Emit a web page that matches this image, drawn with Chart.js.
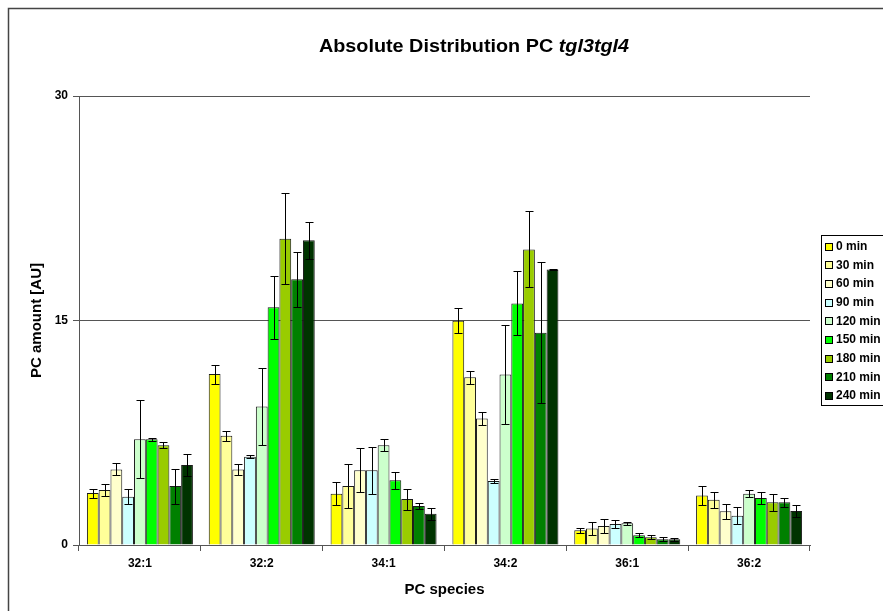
<!DOCTYPE html>
<html>
<head>
<meta charset="utf-8">
<title>Absolute Distribution PC tgl3tgl4</title>
<script src="https://cdn.jsdelivr.net/npm/chart.js@4"></script>
<style>
  html, body { margin: 0; padding: 0; background: #fff; }
  #wrap { width: 883px; height: 611px; }
</style>
</head>
<body>
<div id="wrap"><canvas id="c" width="883" height="611"></canvas></div>
<script>
// PC species on the x axis
const species = ['32:1', '32:2', '34:1', '34:2', '36:1', '36:2'];

// time points (one series each)
const timeLabels = ['0 min', '30 min', '60 min', '90 min', '120 min', '150 min', '180 min', '210 min', '240 min'];
const seriesColors = ['#FFFF00', '#FFFF99', '#FFFFCC', '#CCFFFF', '#CCFFCC', '#00FF00', '#99CC00', '#008000', '#003300'];

// mean PC amount [AU] per time point, ordered like `species`
const min0   = [3.47, 11.42, 3.43, 14.99, 0.98, 3.30];
const min30  = [3.67, 7.30, 3.94, 11.20, 1.11, 3.03];
const min60  = [5.05, 5.05, 4.99, 8.46, 1.27, 2.25];
const min90  = [3.23, 5.90, 4.99, 4.28, 1.40, 1.96];
const min120 = [7.06, 9.26, 6.66, 11.40, 1.45, 3.43];
const min150 = [7.06, 15.88, 4.32, 16.14, 0.65, 3.14];
const min180 = [6.66, 20.46, 3.07, 19.75, 0.51, 2.85];
const min210 = [3.94, 17.75, 2.60, 14.18, 0.38, 2.85];
const min240 = [5.34, 20.37, 2.09, 18.41, 0.38, 2.27];

// standard deviations (error bars)
const err0   = [0.30, 0.63, 0.76, 0.82, 0.15, 0.65];
const err30  = [0.40, 0.35, 1.47, 0.43, 0.42, 0.53];
const err60  = [0.40, 0.35, 1.47, 0.42, 0.45, 0.51];
const err90  = [0.50, 0.10, 1.55, 0.16, 0.29, 0.56];
const err120 = [2.60, 2.56, 0.41, 3.30, 0.11, 0.24];
const err150 = [0.10, 2.10, 0.58, 2.14, 0.13, 0.39];
const err180 = [0.20, 3.05, 0.70, 2.54, 0.13, 0.56];
const err210 = [1.17, 1.83, 0.20, 4.70, 0.13, 0.29];
const err240 = [0.72, 1.24, 0.41, 0.05, 0.11, 0.37];

// y axis ticks
const yTicks = [0, 15, 30];

const means = [min0, min30, min60, min90, min120, min150, min180, min210, min240];
const errs  = [err0, err30, err60, err90, err120, err150, err180, err210, err240];

const FONT = '"Liberation Sans", Arial, Helvetica, sans-serif';

const datasets = timeLabels.map((lab, i) => ({
  label: lab,
  data: means[i],
  errors: errs[i],
  backgroundColor: seriesColors[i],
  borderColor: '#1a1a1a',
  borderWidth: 1,
  borderSkipped: 'bottom',
  categoryPercentage: 0.87,
  barPercentage: 1.0
}));

// outer frame, title, error bars and legend box
const decorations = {
  id: 'decorations',
  beforeDraw(chart) {
    const ctx = chart.ctx;
    ctx.save();
    ctx.fillStyle = '#fff';
    ctx.fillRect(0, 0, chart.width, chart.height);
    ctx.strokeStyle = '#444';
    ctx.lineWidth = 1.5;
    ctx.strokeRect(8.5, 8.5, 1000, 1000);
    ctx.restore();
  },
  afterDatasetsDraw(chart) {
    const ctx = chart.ctx;
    const y = chart.scales.y;
    ctx.save();
    ctx.strokeStyle = '#000';
    ctx.lineWidth = 1;
    chart.data.datasets.forEach((ds, di) => {
      const meta = chart.getDatasetMeta(di);
      meta.data.forEach((bar, i) => {
        const v = ds.data[i], e = ds.errors[i];
        const x = Math.round(bar.x) + 0.5;
        const yt = Math.round(y.getPixelForValue(v + e)) + 0.5;
        const yb = Math.round(y.getPixelForValue(Math.max(0, v - e))) + 0.5;
        ctx.beginPath();
        ctx.moveTo(x, yt); ctx.lineTo(x, yb);
        ctx.moveTo(x - 4, yt); ctx.lineTo(x + 4, yt);
        ctx.moveTo(x - 4, yb); ctx.lineTo(x + 4, yb);
        ctx.stroke();
      });
    });
    ctx.restore();
  },
  afterDraw(chart) {
    const ctx = chart.ctx;
    ctx.save();
    // title: plain part plus italic strain name, slightly widened
    const part1 = 'Absolute Distribution PC ';
    const part2 = 'tgl3tgl4';
    const f1 = 'bold 18px ' + FONT;
    const f2 = 'italic bold 18px ' + FONT;
    const sx = 1.1;
    ctx.font = f1; const w1 = ctx.measureText(part1).width;
    ctx.font = f2; const w2 = ctx.measureText(part2).width;
    const cx = 474, ty = 47;
    ctx.translate(cx, ty);
    ctx.scale(sx, 1);
    const x0 = -(w1 + w2) / 2;
    ctx.fillStyle = '#000';
    ctx.textBaseline = 'middle';
    ctx.textAlign = 'left';
    ctx.font = f1; ctx.fillText(part1, x0, 0);
    ctx.font = f2; ctx.fillText(part2, x0 + w1, 0);
    ctx.setTransform(1, 0, 0, 1, 0, 0);

    // legend box
    const lx = 821, ly = 235;
    ctx.strokeStyle = '#000';
    ctx.lineWidth = 1;
    ctx.strokeRect(lx + 0.5, ly + 0.5, 200, 170);
    ctx.font = 'bold 12px ' + FONT;
    chart.data.datasets.forEach((ds, i) => {
      const cy = 246 + i * 18.7;
      ctx.fillStyle = ds.backgroundColor;
      ctx.fillRect(lx + 4.5, Math.round(cy - 3.5) + 0.5, 7, 7);
      ctx.strokeStyle = '#000';
      ctx.strokeRect(lx + 4.5, Math.round(cy - 3.5) + 0.5, 7, 7);
      ctx.fillStyle = '#000';
      ctx.fillText(ds.label, lx + 15, cy + 0.5);
    });
    ctx.restore();
  }
};

new Chart(document.getElementById('c'), {
  type: 'bar',
  data: { labels: species, datasets },
  options: {
    responsive: false,
    animation: false,
    layout: { padding: { left: 0, top: 96, right: 73, bottom: 0 } },
    plugins: {
      legend: { display: false },
      title: { display: false },
      tooltip: { enabled: false }
    },
    scales: {
      x: {
        afterFit(scale) { scale.height = 66; },
        grid: {
          offset: true,
          drawOnChartArea: false,
          drawTicks: true,
          tickLength: 6,
          color: '#555'
        },
        border: { color: '#555', width: 1 },
        ticks: {
          color: '#000',
          font: { family: FONT, size: 12, weight: 'bold' },
          padding: 5,
          maxRotation: 0
        },
        title: {
          display: true,
          text: 'PC species',
          color: '#000',
          font: { family: FONT, size: 15, weight: 'bold' },
          padding: { top: 0, bottom: 12 }
        }
      },
      y: {
        min: 0,
        max: 30,
        afterFit(scale) { scale.width = 79; },
        afterBuildTicks(scale) { scale.ticks = yTicks.map(v => ({ value: v })); },
        grid: {
          color: '#555',
          lineWidth: 1,
          tickLength: 6,
          drawTicks: true
        },
        border: { color: '#555', width: 1 },
        ticks: {
          color: '#000',
          font: { family: FONT, size: 12, weight: 'bold' },
          padding: 5
        },
        title: {
          display: true,
          text: 'PC amount [AU]',
          color: '#000',
          font: { family: FONT, size: 15, weight: 'bold' },
          padding: { top: 28, bottom: 0 }
        }
      }
    }
  },
  plugins: [decorations]
});
</script>
</body>
</html>
